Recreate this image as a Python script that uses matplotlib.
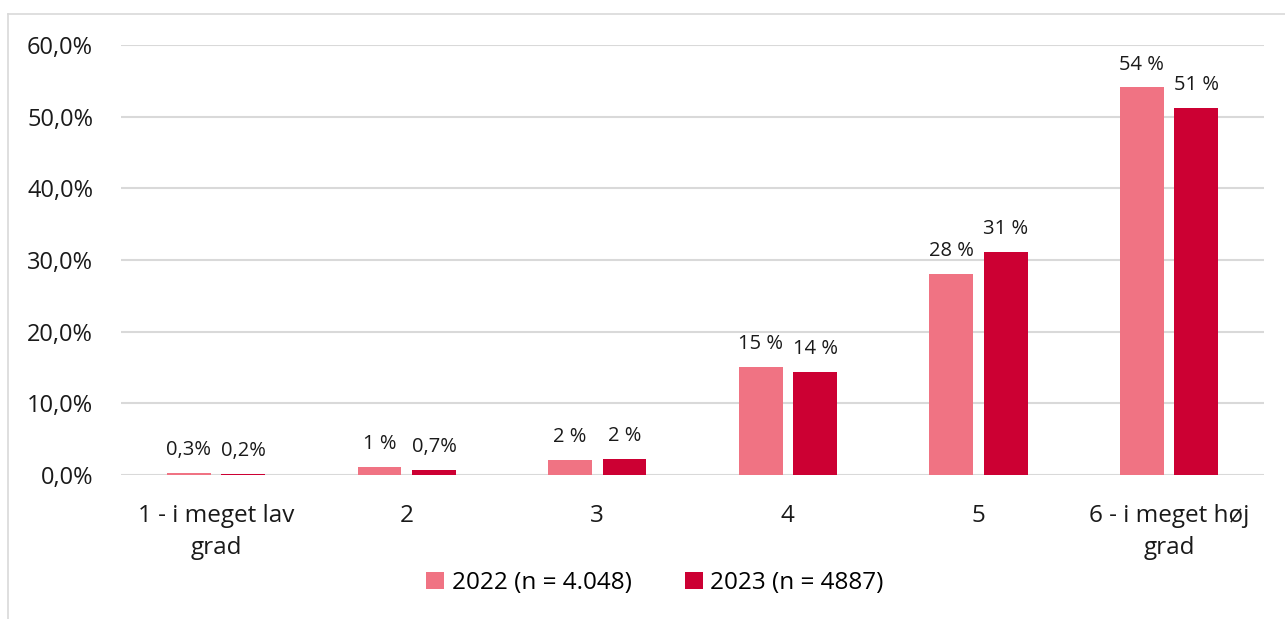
import matplotlib.pyplot as plt
import numpy as np
from matplotlib.lines import Line2D

## Data
categories = ['1 - i meget lav\ngrad', '2', '3', '4', '5', '6 - i meget høj\ngrad']
values_2022 = [0.3, 1.1, 2.1, 15.1, 28.1, 54.1]
values_2023 = [0.2, 0.7, 2.2, 14.4, 31.1, 51.3]
labels_2022 = ['0,3%', '1 %', '2 %', '15 %', '28 %', '54 %']
labels_2023 = ['0,2%', '0,7%', '2 %', '14 %', '31 %', '51 %']
series_names = ['2022 (n = 4.048)', '2023 (n = 4887)']
yticks = [0, 10, 20, 30, 40, 50, 60]

col_2022 = '#F07383'
col_2023 = '#CC0033'

plt.rcParams['font.family'] = ['Open Sans', 'DejaVu Sans']

fig = plt.figure(figsize=(12.85, 6.19), dpi=100)
ax = fig.add_axes([0.094, 0.2326, 0.89, 0.6944])

## Light frame around the chart area
fig.add_artist(Line2D([8/1285, 1], [1 - 14/619, 1 - 14/619], color='#D9D9D9', lw=1.2))
fig.add_artist(Line2D([8/1285, 8/1285], [0, 1 - 14/619], color='#D9D9D9', lw=1.2))

x = np.arange(len(categories))
w = 0.23
off = 0.143
b1 = ax.bar(x - off, values_2022, w, color=col_2022, label=series_names[0], zorder=3)
b2 = ax.bar(x + off, values_2023, w, color=col_2023, label=series_names[1], zorder=3)

for bars, labs in [(b1, labels_2022), (b2, labels_2023)]:
    for rect, lab in zip(bars, labs):
        ax.text(rect.get_x() + rect.get_width()/2, rect.get_height() + 1.8, lab,
                ha='center', va='bottom', fontsize=14.5, color='#1a1a1a')

ax.set_xlim(-0.5, len(categories) - 0.5)
ax.set_ylim(0, 60)
ax.set_yticks(yticks)
ax.set_yticklabels(['%d,0%%' % t for t in yticks])
ax.set_xticks(x)
ax.set_xticklabels(categories)
ax.yaxis.grid(True, color='#D9D9D9', lw=1.5, zorder=0)
ax.set_axisbelow(True)
for s in ax.spines.values():
    s.set_visible(False)
ax.tick_params(axis='y', length=0, pad=20, labelsize=17, labelcolor='#1a1a1a')
ax.tick_params(axis='x', length=0, pad=21, labelsize=17.5, labelcolor='#1a1a1a')
for lab in ax.get_xticklabels():
    lab.set_linespacing(1.45)

ax.legend(loc='center', bbox_to_anchor=(0.467, -0.251), ncol=2, frameon=False,
          fontsize=17.5, handlelength=0.75, handleheight=0.75, handletextpad=0.3,
          columnspacing=2.2)

fig.savefig('out.png', dpi=100)
